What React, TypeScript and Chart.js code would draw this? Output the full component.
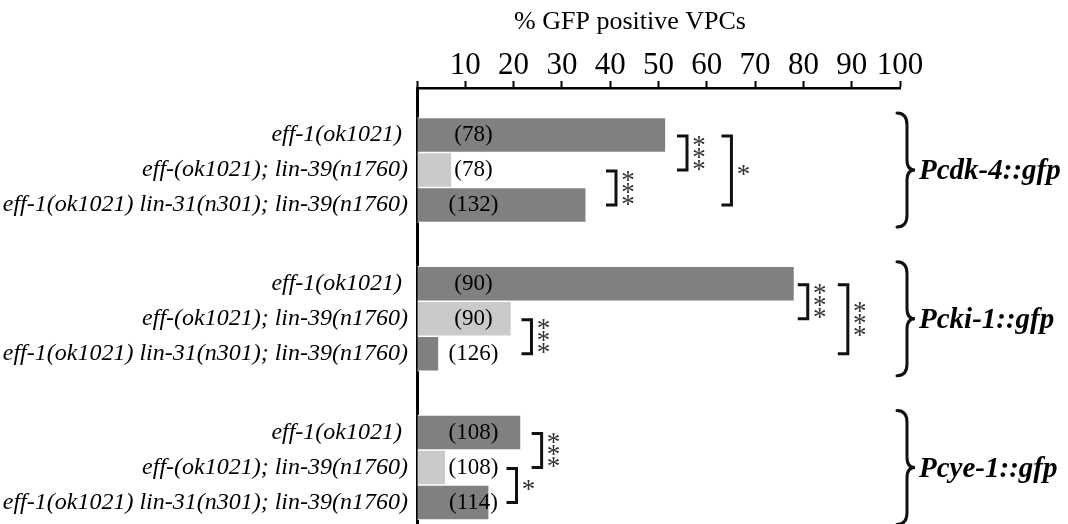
import React, { useEffect, useRef } from 'react';
import { Chart, registerables } from 'chart.js';

Chart.register(...registerables);

// ---- data ----
const reporters = ['Pcdk-4::gfp', 'Pcki-1::gfp', 'Pcye-1::gfp'];
const genotypes = [
  'eff-1(ok1021) ',
  'eff-(ok1021); lin-39(n1760)',
  'eff-1(ok1021) lin-31(n301); lin-39(n1760)',
];
const effValues = [51.4, 78.0, 21.4];
const effLin39Values = [7.1, 19.4, 5.8];
const effLin31Lin39Values = [34.9, 4.4, 14.8];
const effCounts = ['(78)', '(90)', '(108)'];
const effLin39Counts = ['(78)', '(90)', '(108)'];
const effLin31Lin39Counts = ['(132)', '(126)', '(114)'];
const xTickLabels = ['', '10', '20', '30', '40', '50', '60', '70', '80', '90', '100'];
const axisTitle = '% GFP positive VPCs';

// significance brackets: group, from bar, to bar, x (value), stars
const bracketGroup = [0, 0, 0, 1, 1, 1, 2, 2];
const bracketFrom = [0, 1, 0, 0, 1, 0, 0, 1];
const bracketTo = [1, 2, 2, 1, 2, 2, 1, 2];
const bracketAt = [55.9, 41.2, 65.1, 80.9, 23.7, 89.2, 25.8, 20.6];
const bracketStars = [3, 3, 1, 3, 3, 3, 3, 1];

const DARK = '#808080';
const LIGHT = '#cacaca';
const FONT = 'Liberation Serif';

const counts = [effCounts, effLin39Counts, effLin31Lin39Counts];

const annotPlugin = {
  id: 'annot',
  afterDatasetsDraw(chart: any) {
    const { ctx, chartArea } = chart;
    const xs = chart.scales.x;
    const ys = chart.scales.y;
    ctx.save();

    // axis title
    ctx.fillStyle = '#000';
    ctx.font = `26px ${FONT}`;
    ctx.textAlign = 'center';
    ctx.textBaseline = 'middle';
    ctx.fillText(axisTitle, chartArea.left + 213, 22);

    for (let d = 0; d < 3; d++) {
      const meta = chart.getDatasetMeta(d);
      meta.data.forEach((bar: any, g: number) => {
        ctx.font = `italic 24px ${FONT}`;
        ctx.textAlign = 'right';
        ctx.textBaseline = 'middle';
        ctx.fillStyle = '#000';
        ctx.fillText(genotypes[d], chartArea.left - 9, bar.y);
        ctx.font = `23px ${FONT}`;
        ctx.textAlign = 'center';
        ctx.fillText(counts[d][g], xs.getPixelForValue(11.7), bar.y);
      });
    }

    // brackets
    ctx.strokeStyle = '#111';
    ctx.lineWidth = 3;
    ctx.lineJoin = 'miter';
    for (let i = 0; i < bracketGroup.length; i++) {
      const g = bracketGroup[i];
      const yA = chart.getDatasetMeta(bracketFrom[i]).data[g].y + 1;
      const yB = chart.getDatasetMeta(bracketTo[i]).data[g].y;
      const x = xs.getPixelForValue(bracketAt[i]);
      ctx.beginPath();
      ctx.moveTo(x - 10, yA);
      ctx.lineTo(x, yA);
      ctx.lineTo(x, yB);
      ctx.lineTo(x - 10, yB);
      ctx.stroke();
      const n = bracketStars[i];
      const mid = (yA + yB) / 2;
      ctx.fillStyle = '#333';
      ctx.font = `27px ${FONT}`;
      ctx.textAlign = 'center';
      ctx.textBaseline = 'alphabetic';
      for (let k = 0; k < n; k++) {
        const cy = mid + (k - (n - 1) / 2) * 12;
        ctx.fillText('*', x + 12, cy + 0.47 * 27);
      }
    }

    // braces + reporter labels
    const r = chartArea.right;
    ctx.strokeStyle = '#111';
    ctx.lineWidth = 3;
    ctx.lineCap = 'round';
    reporters.forEach((name, g) => {
      const c = ys.getPixelForValue(g);
      const top = c - 57;
      const bot = c + 57;
      const x0 = r - 3;
      const xsp = r + 7;
      const xt = r + 15;
      ctx.beginPath();
      ctx.moveTo(x0, top);
      ctx.quadraticCurveTo(xsp, top, xsp, top + 12);
      ctx.lineTo(xsp, c - 10);
      ctx.quadraticCurveTo(xsp, c, xt, c);
      ctx.quadraticCurveTo(xsp, c, xsp, c + 10);
      ctx.lineTo(xsp, bot - 12);
      ctx.quadraticCurveTo(xsp, bot, x0, bot);
      ctx.stroke();
      ctx.fillStyle = '#000';
      ctx.font = `italic bold 29px ${FONT}`;
      ctx.textAlign = 'left';
      ctx.textBaseline = 'middle';
      ctx.fillText(name, r + 19, c + 2);
    });

    ctx.restore();
  },
};

export default function App() {
  const ref = useRef<HTMLCanvasElement | null>(null);
  useEffect(() => {
    if (!ref.current) return;
    Chart.defaults.font.family = FONT;
    Chart.defaults.color = '#000';
    const mk = (vals: number[]) => vals.map((v, i) => ({ x: v, y: i }));
    const common = {
      barThickness: 35,
      borderWidth: { top: 1, bottom: 1, left: 0, right: 0 },
      borderColor: '#ffffff',
      borderSkipped: false,
    };
    const chart = new Chart(ref.current, {
      type: 'bar',
      data: {
        datasets: [
          { label: genotypes[0], data: mk(effValues), backgroundColor: DARK, ...common },
          { label: genotypes[1], data: mk(effLin39Values), backgroundColor: LIGHT, ...common },
          { label: genotypes[2], data: mk(effLin31Lin39Values), backgroundColor: DARK, ...common },
        ] as any,
      },
      options: {
        indexAxis: 'y',
        animation: false,
        responsive: false,
        devicePixelRatio: 1,
        layout: { padding: { left: 409, right: 168, top: 50, bottom: 0 } },
        plugins: { legend: { display: false }, tooltip: { enabled: false }, title: { display: false } },
        scales: {
          x: {
            type: 'linear',
            position: 'top',
            min: 0,
            max: 100,
            ticks: {
              stepSize: 10,
              autoSkip: false,
              maxRotation: 0,
              padding: 0,
              color: '#000',
              font: { size: 31, family: FONT, lineHeight: 1 },
              callback: (_v: any, i: number) => xTickLabels[i],
            },
            grid: { drawOnChartArea: false, drawTicks: true, tickLength: 7, tickWidth: 2, tickColor: '#000' },
            border: { display: true, color: '#000', width: 2.5 },
          },
          y: {
            type: 'linear',
            reverse: true,
            offset: false,
            min: -0.551,
            max: 2.38,
            ticks: { display: false },
            grid: { display: false, offset: false },
            border: { display: true, color: '#000', width: 3 },
          },
        },
      } as any,
      plugins: [annotPlugin],
    });
    return () => chart.destroy();
  }, []);
  return (
    <div style={{ position: 'fixed', left: 0, top: 0, width: 1068, height: 524, background: '#fff', overflow: 'hidden' }}>
      <canvas ref={ref} width={1068} height={524} style={{ display: 'block' }} />
    </div>
  );
}
